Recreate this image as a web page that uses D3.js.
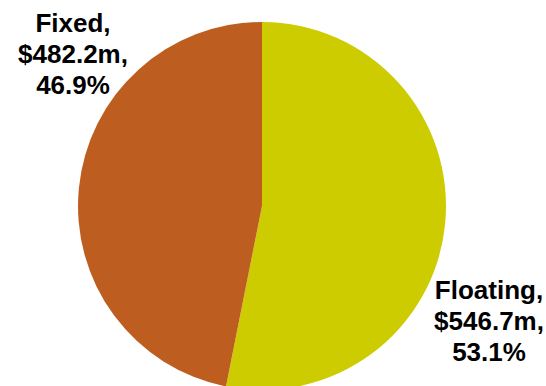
<!DOCTYPE html>
<html>
<head>
<meta charset="utf-8">
<script src="https://cdn.jsdelivr.net/npm/d3@7"></script>
<style>
  body { margin: 0; background: #fff; }
</style>
</head>
<body>
<div id="chart"></div>
<script>
let w = 546;
let h = 386;

// data
let categories = ["Floating", "Fixed"];
let amounts = [546.7, 482.2];     // $m
let shares = ["53.1%", "46.9%"];
let colors = ["#cccc00", "#bd5e20"];

let cx = 262;
let cy = 206;
let radius = 184;

let viz = d3.select("#chart")
  .append("svg")
  .attr("width", w)
  .attr("height", h)
;

let pie = d3.pie().sort(null).value(function(d){ return d; });
let arc = d3.arc().innerRadius(0).outerRadius(radius);

let slices = pie(amounts);

viz.append("g")
  .attr("transform", "translate(" + cx + "," + cy + ")")
  .selectAll(".slice").data(slices).enter()
  .append("path")
  .attr("class", "slice")
  .attr("d", arc)
  .attr("fill", function(d, i){ return colors[i]; })
;

// label anchors (outside, text-anchor middle, first baseline)
let labelPos = [[489, 299], [73, 32]];

let labels = viz.selectAll(".label").data(slices).enter()
  .append("text")
  .attr("class", "label")
  .attr("text-anchor", "middle")
  .attr("font-family", "Liberation Sans, Arial, sans-serif")
  .attr("font-weight", "bold")
  .attr("font-size", 26)
  .attr("fill", "#000")
;

labels.each(function(d, i){
  let lines = [categories[i] + ",", "$" + d3.format(".1f")(amounts[i]) + "m,", shares[i]];
  d3.select(this).selectAll("tspan").data(lines).enter()
    .append("tspan")
    .attr("x", labelPos[i][0])
    .attr("y", function(l, j){ return labelPos[i][1] + j * 31; })
    .text(function(l){ return l; });
});
</script>
</body>
</html>
